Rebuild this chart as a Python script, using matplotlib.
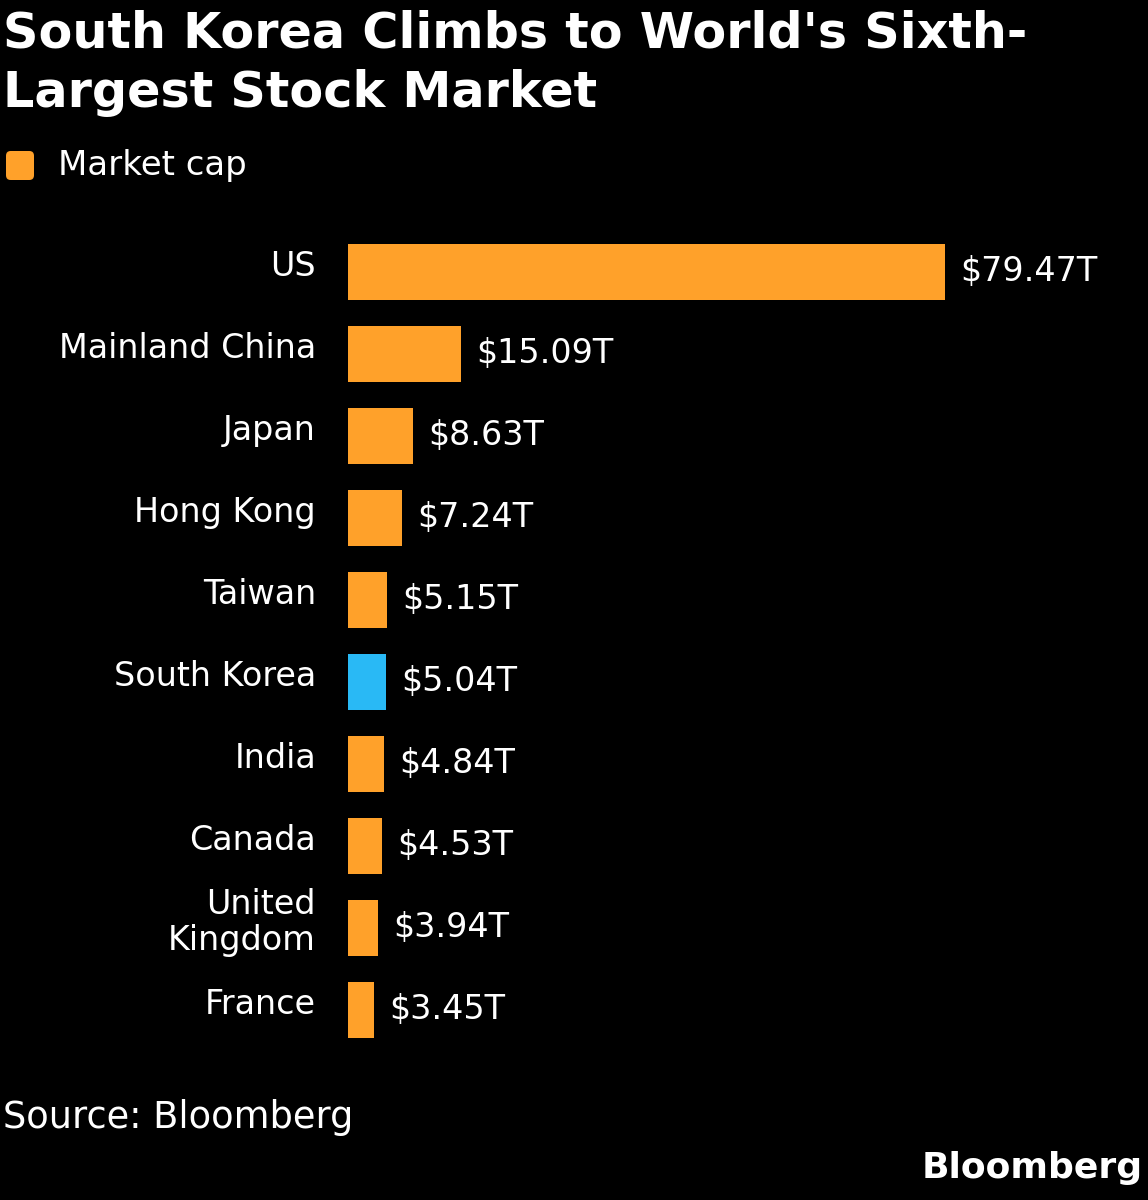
import matplotlib
matplotlib.use("Agg")
import matplotlib.pyplot as plt
from matplotlib.patches import FancyBboxPatch

countries = ["US", "Mainland China", "Japan", "Hong Kong", "Taiwan", "South Korea",
             "India", "Canada", "United\nKingdom", "France"]
market_cap = [79.47, 15.09, 8.63, 7.24, 5.15, 5.04, 4.84, 4.53, 3.94, 3.45]
value_labels = ["$79.47T", "$15.09T", "$8.63T", "$7.24T", "$5.15T", "$5.04T",
                "$4.84T", "$4.53T", "$3.94T", "$3.45T"]
highlight = "South Korea"

ORANGE = "#FFA12A"
BLUE = "#29B9F5"
W, H = 1148, 1200

fig = plt.figure(figsize=(W / 100, H / 100), dpi=100, facecolor="black")

# axes: left at bar start, covering rows
ax_left, ax_right = 348, 1148
ax_top, ax_bottom = 231, 1051
ax = fig.add_axes([ax_left / W, 1 - ax_bottom / H, (ax_right - ax_left) / W, (ax_bottom - ax_top) / H])
ax.set_facecolor("black")
xmax = 79.47 * (ax_right - ax_left) / 597
ax.set_xlim(0, xmax)
ax.set_ylim(len(countries) - 0.5, -0.5)

ys = list(range(len(countries)))
colors = [BLUE if c == highlight else ORANGE for c in countries]
ax.barh(ys, market_cap, height=0.69, color=colors, edgecolor="none")

font = "DejaVu Sans"
for y, v, lab in zip(ys, market_cap, value_labels):
    ax.text(v + xmax * 0.019, y, lab, color="white", fontsize=24, va="center", ha="left",
            family=font)
for y, c in zip(ys, countries):
    ax.text(-xmax * 0.04, y - 0.07, c, color="white", fontsize=24, va="center", ha="right",
            family=font, linespacing=1.1)

ax.set_xticks([])
ax.set_yticks([])
for s in ax.spines.values():
    s.set_visible(False)

# Title
fig.text(3 / W, 1 - 10 / H, "South Korea Climbs to World's Sixth-\nLargest Stock Market",
         color="white", fontsize=35.5, fontweight="bold", va="top", ha="left",
         family=font, linespacing=1.3)

# Legend
fig.patches.append(FancyBboxPatch((6 / W, 1 - 180 / H), 28 / W, 29 / H,
                                  boxstyle="round,pad=0,rounding_size=0.004",
                                  transform=fig.transFigure, facecolor=ORANGE,
                                  edgecolor="none"))
fig.text(58 / W, 1 - 165 / H, "Market cap", color="white", fontsize=24.5, va="center",
         ha="left", family=font)

# Source
fig.text(3 / W, 1 - 1117 / H, "Source: Bloomberg", color="white", fontsize=26.5,
         va="center", ha="left", family=font)
fig.text(1143 / W, 1 - 1168 / H, "Bloomberg", color="white", fontsize=26,
         fontweight="bold", va="center", ha="right", family=font)

fig.savefig("out.png", dpi=100, facecolor="black")
